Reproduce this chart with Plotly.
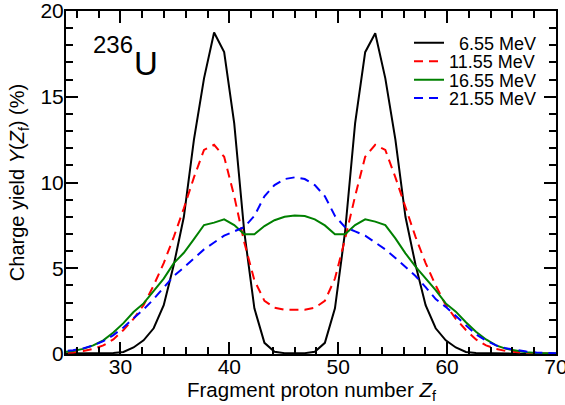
import plotly.graph_objects as go

# Fragment proton number grid (read from the polyline vertices)
Z = [23.8, 24.725, 25.65, 26.575, 27.5, 28.425, 29.35, 30.275, 31.2, 32.125,
     33.05, 33.975, 34.9, 35.825, 36.75, 37.675, 38.6, 39.525, 40.45, 41.375,
     42.3, 43.225, 44.15, 45.075, 46.0, 46.925, 47.85, 48.775, 49.7, 50.625,
     51.55, 52.475, 53.4, 54.325, 55.25, 56.175, 57.1, 58.025, 58.95, 59.875,
     60.8, 61.725, 62.65, 63.575, 64.5, 65.425, 66.35, 67.275, 68.2, 69.125, 70.05]

y_655 = [0.02, 0.02, 0.02, 0.02, 0.03, 0.04, 0.06, 0.12, 0.38, 0.8,
         1.5, 2.85, 5.2, 8.0, 12.5, 16.07, 18.75, 17.6, 13.45, 7.1,
         2.66, 0.65, 0.13, 0.05, 0.04, 0.05, 0.13, 0.65, 2.66, 7.1,
         13.45, 17.6, 18.7, 16.07, 12.5, 8.0, 5.2, 2.85, 1.5, 0.8,
         0.38, 0.12, 0.06, 0.04, 0.03, 0.02, 0.02, 0.02, 0.02, 0.02, 0.02]

y_1155 = [0.03, 0.05, 0.09, 0.17, 0.3, 0.5, 0.85, 1.4, 2.05, 2.85,
          4.0, 5.3, 6.83, 8.5, 10.3, 11.9, 12.2, 11.5, 9.2, 6.5,
          4.3, 3.1, 2.7, 2.58, 2.6, 2.58, 2.7, 3.1, 4.4, 6.7,
          9.2, 11.5, 12.2, 11.9, 10.3, 8.5, 6.83, 5.3, 4.0, 2.85,
          2.05, 1.4, 0.85, 0.5, 0.3, 0.17, 0.09, 0.05, 0.03, 0.02, 0.01]

y_1655 = [0.06, 0.1, 0.18, 0.3, 0.5, 0.8, 1.25, 1.8, 2.45, 2.95,
          3.7, 4.4, 5.3, 5.9, 6.7, 7.52, 7.66, 7.85, 7.52, 6.98,
          6.98, 7.46, 7.8, 8.0, 8.08, 8.05, 7.85, 7.5, 6.98, 6.98,
          7.52, 7.85, 7.72, 7.52, 6.74, 5.87, 5.1, 4.4, 3.73, 2.95,
          2.47, 1.85, 1.3, 0.85, 0.5, 0.3, 0.18, 0.1, 0.06, 0.04, 0.03]

y_2155 = [0.09, 0.14, 0.22, 0.33, 0.5, 0.75, 1.1, 1.55, 2.05, 2.6,
          3.2, 3.9, 4.55, 5.05, 5.6, 6.1, 6.5, 6.9, 7.15, 7.4,
          8.05, 9.2, 9.85, 10.2, 10.3, 10.2, 9.85, 9.2, 8.05, 7.4,
          7.15, 6.9, 6.5, 6.1, 5.6, 5.05, 4.55, 3.9, 3.2, 2.75,
          2.2, 1.65, 1.15, 0.78, 0.5, 0.33, 0.22, 0.14, 0.09, 0.06, 0.04]

names = ["\u20076.55 MeV", "11.55 MeV", "16.55 MeV", "21.55 MeV"]
colors = ["#000000", "#ff0000", "#008000", "#0000ff"]
dashes = ["solid", "9px,6px", "solid", "9px,6px"]
series = [y_655, y_1155, y_1655, y_2155]
legend_ids = ["legend", "legend2", "legend3", "legend4"]
legend_rows = [0.9067, 0.8528, 0.7988, 0.7455]

FONT = "Liberation Sans, Arial, sans-serif"

fig = go.Figure()
for yv, nm, c, d, lg in zip(series, names, colors, dashes, legend_ids):
    fig.add_trace(go.Scatter(x=Z, y=yv, mode="lines", name=nm, legend=lg,
                             line=dict(color=c, width=2, dash=d)))

axis_common = dict(showline=True, linecolor="black", linewidth=2, mirror="ticks",
                   ticks="inside", tickcolor="black", tickwidth=1.5,
                   showgrid=False, zeroline=False, automargin=False,
                   ticklabeloverflow="allow",
                   tickfont=dict(family=FONT, size=21, color="black"))

fig.update_xaxes(range=[25, 70], tick0=0, dtick=10, ticklen=12,
                 ticklabelstandoff=-7,
                 minor=dict(dtick=2, ticks="inside", ticklen=7, tickcolor="black",
                            tickwidth=1.5, showgrid=False),
                 **axis_common)
fig.update_yaxes(range=[0, 20], tick0=0, dtick=5, ticklen=12,
                 ticklabelstandoff=-4,
                 minor=dict(dtick=1, ticks="inside", ticklen=7, tickcolor="black",
                            tickwidth=1.5, showgrid=False),
                 title=dict(text="Charge yield <i>Y</i>(<i>Z</i><sub>f</sub>) (%)",
                            font=dict(family=FONT, size=20, color="black"), standoff=10),
                 **axis_common)

# x-axis title placed as a paper annotation for exact vertical placement
fig.add_annotation(text="Fragment proton number <i>Z</i><sub>f</sub>",
                   xref="paper", yref="paper", x=0.5, y=-0.108,
                   xanchor="center", yanchor="middle", showarrow=False,
                   font=dict(family=FONT, size=20.5, color="black"))

fig.add_annotation(text="236", xref="paper", yref="paper", x=0.095, y=0.902,
                   xanchor="center", yanchor="middle",
                   showarrow=False, font=dict(family=FONT, size=24, color="black"))
fig.add_annotation(text="U", xref="paper", yref="paper", x=0.163, y=0.848,
                   xanchor="center", yanchor="middle",
                   showarrow=False, font=dict(family=FONT, size=33, color="black"))

legend_style = dict(x=0.70, xanchor="left", yanchor="middle",
                    bgcolor="rgba(0,0,0,0)", borderwidth=0,
                    font=dict(family=FONT, size=18, color="black"),
                    itemwidth=30)
fig.update_layout(
    width=565, height=405,
    margin=dict(l=66, r=9, t=11, b=51, autoexpand=False),
    paper_bgcolor="white", plot_bgcolor="white",
    showlegend=True,
    legend=dict(y=legend_rows[0], **legend_style),
    legend2=dict(y=legend_rows[1], **legend_style),
    legend3=dict(y=legend_rows[2], **legend_style),
    legend4=dict(y=legend_rows[3], **legend_style),
)

fig.write_html("out.html", config={"displayModeBar": False},
               post_script="document.body.style.margin='0px';")
